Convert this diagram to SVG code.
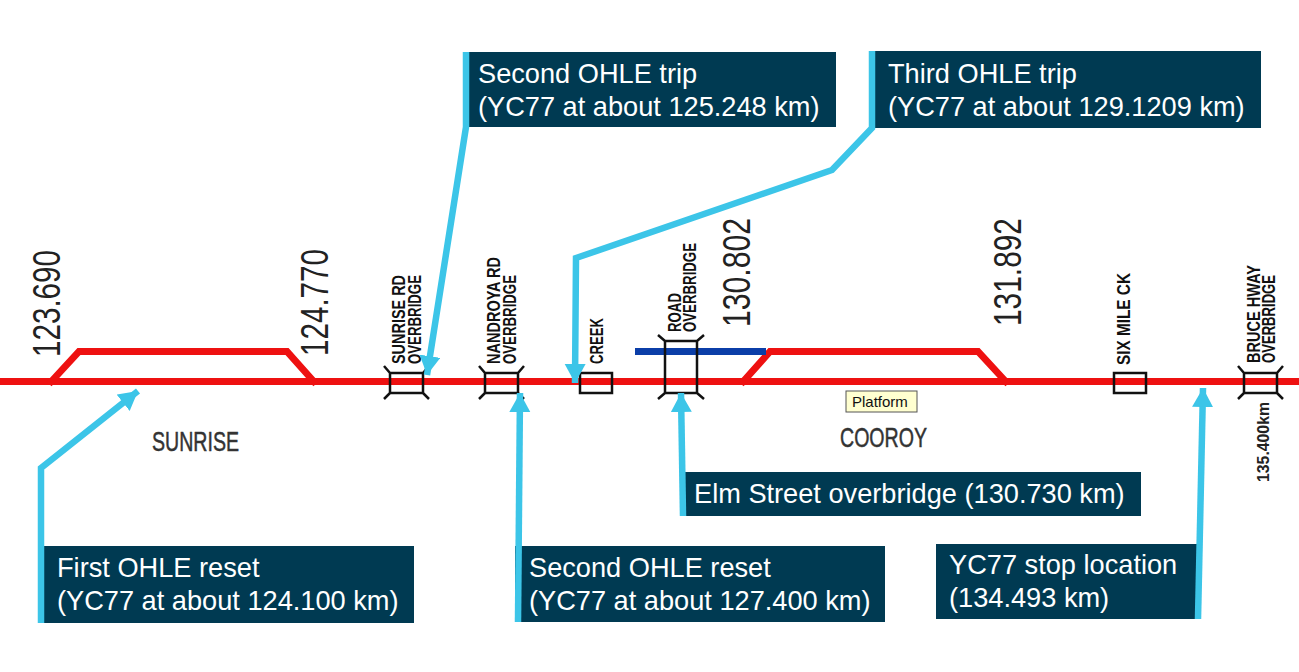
<svg xmlns="http://www.w3.org/2000/svg" width="1299" height="672" viewBox="0 0 1299 672">
<style>
.box{fill:#003a52}
.lab{font:27.2px "Liberation Sans",Arial,sans-serif;fill:#fff}
.km{font:38px "Liberation Sans",Arial,sans-serif;fill:#222}
.sm{font:bold 19px "Liberation Sans",Arial,sans-serif;fill:#111}
.st{font:28px "Liberation Sans",Arial,sans-serif;fill:#333;stroke:#333;stroke-width:.5}
.track{fill:none;stroke:#ee1111;stroke-width:7}
.br{fill:none;stroke:#111;stroke-width:2.5}
.con{fill:none;stroke:#3cc5e8;stroke-width:6.5}
</style>
<defs>
<marker id="ah" markerUnits="userSpaceOnUse" markerWidth="22" markerHeight="22" refX="19" refY="10.500" orient="auto"><path d="M0 0L19 10.500L0 21z" fill="#3cc5e8"/></marker>
</defs>
<rect width="1299" height="672" fill="#fff"/>
<g id="track">
<path class="track" d="M0 381.500H1299"/>
<path class="track" stroke-width="8" d="M49 384L79 351.500H287L316 384"/>
<path class="track" stroke-width="8" d="M741 384L770 351.500H978L1008 384"/>
<path d="M635 351.500H766" fill="none" stroke="#0b3ea8" stroke-width="7"/>
</g>
<g id="km-labels">
<text class="km" transform="translate(60,357) rotate(-90)" textLength="107" lengthAdjust="spacingAndGlyphs">123.690</text>
<text class="km" transform="translate(328,356) rotate(-90)" textLength="107" lengthAdjust="spacingAndGlyphs">124.770</text>
<text class="km" transform="translate(750,327) rotate(-90)" textLength="109" lengthAdjust="spacingAndGlyphs">130.802</text>
<text class="km" transform="translate(1021,326) rotate(-90)" textLength="108" lengthAdjust="spacingAndGlyphs">131.892</text>
<text transform="translate(1269,482) rotate(-90)" textLength="80" lengthAdjust="spacingAndGlyphs" style="font:bold 17px 'Liberation Sans',Arial,sans-serif;fill:#222">135.400km</text>
<text class="st" x="152" y="451" textLength="87" lengthAdjust="spacingAndGlyphs">SUNRISE</text>
<text class="st" x="840" y="447" textLength="87" lengthAdjust="spacingAndGlyphs">COOROY</text>
</g>
<g id="sunrise-bridge">
<path class="br" d="M390 373H423V393H390ZM390 373L384 366M423 373L429 366M390 393L384 399M423 393L429 399"/>
<text class="sm" transform="translate(405,364) rotate(-90)" textLength="89" lengthAdjust="spacingAndGlyphs">SUNRISE RD</text>
<text class="sm" transform="translate(421,364) rotate(-90)" textLength="89" lengthAdjust="spacingAndGlyphs">OVERBRIDGE</text>
</g>
<g id="nandroya-bridge">
<path class="br" d="M485 373H518V393H485ZM485 373L479 366M518 373L524 366M485 393L479 399M518 393L524 399"/>
<text class="sm" transform="translate(500,364) rotate(-90)" textLength="107" lengthAdjust="spacingAndGlyphs">NANDROYA RD</text>
<text class="sm" transform="translate(516,364) rotate(-90)" textLength="89" lengthAdjust="spacingAndGlyphs">OVERBRIDGE</text>
</g>
<g id="creek">
<rect class="br" x="580" y="373" width="32" height="20"/>
<text class="sm" transform="translate(603,364) rotate(-90)" textLength="46" lengthAdjust="spacingAndGlyphs">CREEK</text>
</g>
<g id="road-bridge">
<path class="br" d="M665 341H697V393H665ZM665 341L658 335M697 341L704 335M665 393L658 399M697 393L704 399"/>
<text class="sm" transform="translate(681,332) rotate(-90)" textLength="39" lengthAdjust="spacingAndGlyphs">ROAD</text>
<text class="sm" transform="translate(696,332) rotate(-90)" textLength="89" lengthAdjust="spacingAndGlyphs">OVERBRIDGE</text>
</g>
<g id="six-mile">
<rect class="br" x="1114" y="373" width="32" height="20"/>
<text class="sm" transform="translate(1130,365) rotate(-90)" textLength="92" lengthAdjust="spacingAndGlyphs">SIX MILE CK</text>
</g>
<g id="bruce-bridge">
<path class="br" d="M1244 373H1277V393H1244ZM1244 373L1238 366M1277 373L1283 366M1244 393L1238 399M1277 393L1283 399"/>
<text class="sm" transform="translate(1260,363) rotate(-90)" textLength="98" lengthAdjust="spacingAndGlyphs">BRUCE HWAY</text>
<text class="sm" transform="translate(1275,363) rotate(-90)" textLength="88" lengthAdjust="spacingAndGlyphs">OVERBRIDGE</text>
</g>
<g id="platform">
<rect x="846" y="391" width="71" height="21" fill="#ffffd0" stroke="#555" stroke-width="1"/>
<text x="852" y="407" style="font:15px 'Liberation Sans',Arial,sans-serif;fill:#111">Platform</text>
</g>
<g id="second-trip">
<rect class="box" x="463" y="52" width="373" height="75"/>
<text class="lab" x="478" y="83">Second OHLE trip</text>
<text class="lab" x="478" y="116">(YC77 at about 125.248 km)</text>
</g>
<g id="third-trip">
<rect class="box" x="870" y="51" width="391" height="77"/>
<text class="lab" x="888" y="83">Third OHLE trip</text>
<text class="lab" x="888" y="116">(YC77 at about 129.1209 km)</text>
</g>
<g id="first-reset">
<rect class="box" x="38" y="546" width="376" height="77"/>
<text class="lab" x="57" y="577">First OHLE reset</text>
<text class="lab" x="57" y="610">(YC77 at about 124.100 km)</text>
</g>
<g id="second-reset">
<rect class="box" x="515" y="546" width="370" height="76"/>
<text class="lab" x="529" y="577">Second OHLE reset</text>
<text class="lab" x="529" y="610">(YC77 at about 127.400 km)</text>
</g>
<g id="elm">
<rect class="box" x="680" y="472" width="461" height="44"/>
<text class="lab" x="694" y="503">Elm Street overbridge (130.730 km)</text>
</g>
<g id="stop">
<rect class="box" x="936" y="544" width="264" height="75"/>
<text class="lab" x="949" y="574">YC77 stop location</text>
<text class="lab" x="949" y="607">(134.493 km)</text>
</g>
<g id="connectors">
<path class="con" d="M466 52V127L427 375" marker-end="url(#ah)"/>
<path class="con" d="M872 51V128L832 170L576 258L575 383" marker-end="url(#ah)"/>
<path class="con" d="M41 623V468L138 391" marker-end="url(#ah)"/>
<path class="con" d="M518 622L520 393" marker-end="url(#ah)"/>
<path class="con" d="M683 516L681 393" marker-end="url(#ah)"/>
<path class="con" d="M1198 619L1203 388" marker-end="url(#ah)"/>
</g>
</svg>
